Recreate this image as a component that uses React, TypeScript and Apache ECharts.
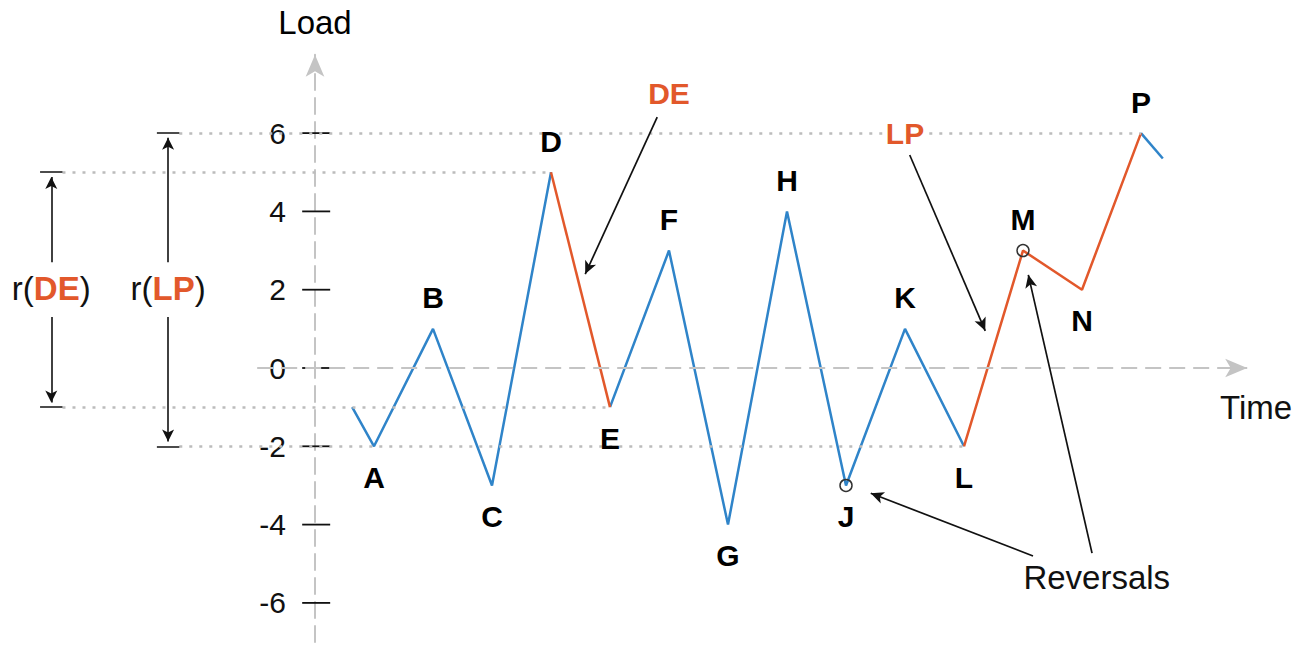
import React, { useEffect, useRef } from 'react';
import * as echarts from 'echarts';

const FONT = '"Liberation Sans", Arial, Helvetica, sans-serif';
const BLUE = '#2f84c9';
const ORANGE = '#e2582b';
const INK = '#000000';

// Reversal points of the load history
const letters = ['A', 'B', 'C', 'D', 'E', 'F', 'G', 'H', 'J', 'K', 'L', 'M', 'N', 'P'];
const times = [1, 2, 3, 4, 5, 6, 7, 8, 9, 10, 11, 12, 13, 14];
const loads = [-2, 1, -3, 5, -1, 3, -4, 4, -3, 1, -2, 3, 2, 6];
// partial segments before A and after P
const leadIn = [0.63, -1];
const leadOut = [14.37, 5.35];
// y axis tick labels
const yTickValues = [-6, -4, -2, 0, 2, 4, 6];
// circled reversals
const circled = ['J', 'M'];
// highlighted half cycles (orange) and the rest of the history (blue)
const orangeStretches = [['D', 'E'], ['L', 'M', 'N', 'P']];
const blueStretches = [['A', 'B', 'C', 'D'], ['E', 'F', 'G', 'H', 'J', 'K', 'L'], ['P']];
// ranges shown on the left
const rangePairs = [['D', 'E'], ['L', 'P']];

const pt = (l: string) => {
  const i = letters.indexOf(l);
  return [times[i], loads[i]];
};

const X_MIN = -5;
const X_MAX = 16.5;
const GRID_LEFT = 20;
const GRID_RIGHT = 12.5;
const WIDTH = 1301;

export default function App() {
  const ref = useRef<HTMLDivElement>(null);
  useEffect(() => {
    document.body.style.margin = '0';
    if (!ref.current) return;
    const chart = echarts.init(ref.current, null, { renderer: 'svg' });

    const blueData = blueStretches.map((s, k) => {
      const pts = s.map(pt);
      if (k === 0) pts.unshift(leadIn);
      if (k === blueStretches.length - 1) pts.push(leadOut);
      return pts;
    });
    const gridWidth = WIDTH - GRID_LEFT - GRID_RIGHT;
    const yAxisOffset = -(gridWidth * (0 - X_MIN)) / (X_MAX - X_MIN);

    const rangeX = [-4.47, -2.49];
    const capHalf = 0.19;
    const dotted: any[] = [];
    const caps: any[] = [];
    const rangeArrows: any[] = [];
    const rangeLabels: any[] = [];
    rangePairs.forEach((pair, k) => {
      const x = rangeX[k];
      const vals = pair.map((l) => pt(l)[1]);
      const hi = Math.max(...vals);
      const lo = Math.min(...vals);
      pair.forEach((l) => {
        const p = pt(l);
        dotted.push([{ coord: [x + capHalf, p[1]] }, { coord: p }]);
        caps.push([{ coord: [x - capHalf, p[1]] }, { coord: [x + capHalf, p[1]] }]);
      });
      rangeArrows.push([{ coord: [x, 2.7] }, { coord: [x, hi - 0.12] }]);
      rangeArrows.push([{ coord: [x, 1.3] }, { coord: [x, lo + 0.12] }]);
      rangeLabels.push({
        value: [x, 2.02],
        label: { formatter: `{k|r(}{o|${pair.join('')}}{k|)}` },
      });
    });

    const annotationArrows = [
      [[5.8, 6.41], [4.58, 2.4]],
      [[10.08, 5.44], [11.36, 0.95]],
      [[12.17, -4.8], [9.42, -3.2]],
      [[13.17, -4.73], [12.09, 2.38]],
    ].map(([a, b]) => [{ coord: a }, { coord: b }]);

    const noBorder = { textBorderWidth: 0, textShadowBlur: 0 };
    const solid = { opacity: 1 };

    const option: any = {
      animation: false,
      grid: {
        left: GRID_LEFT,
        right: GRID_RIGHT,
        top: 54.8,
        bottom: 2.95,
        containLabel: false,
        outerBoundsMode: 'none',
      },
      xAxis: { type: 'value', min: X_MIN, max: X_MAX, show: false },
      yAxis: {
        type: 'value',
        min: -7,
        max: 8,
        position: 'left',
        offset: yAxisOffset,
        name: 'Load',
        nameLocation: 'end',
        nameGap: 16,
        nameTextStyle: { fontSize: 33, color: INK, fontFamily: FONT },
        axisLine: {
          show: true,
          onZero: false,
          symbol: ['none', 'arrow'],
          symbolSize: [14, 22],
          lineStyle: { color: '#c4c4c4', width: 2, type: [16, 8] },
        },
        axisTick: { show: false },
        splitLine: { show: false },
        axisLabel: {
          customValues: yTickValues,
          fontSize: 30,
          color: '#111',
          margin: 29,
          fontFamily: FONT,
        },
      },
      series: [
        {
          name: 'ticks',
          type: 'scatter',
          z: 1,
          symbol: 'rect',
          symbolSize: [28, 1.8],
          itemStyle: { color: '#111', opacity: 1 },
          data: yTickValues.map((v) => [0.02, v]),
          silent: true,
        },
        {
          name: 'guides',
          type: 'scatter',
          z: 2,
          data: [],
          markLine: {
            silent: true,
            symbol: ['none', 'none'],
            label: { show: false },
            lineStyle: { color: '#bcbcbc', width: 2.5, type: [3, 7], opacity: 1 },
            data: dotted,
          },
        },
        {
          name: 'timeAxis',
          type: 'scatter',
          z: 2,
          data: [],
          markLine: {
            silent: true,
            symbol: ['none', 'arrow'],
            symbolSize: [14, 22],
            label: { show: false },
            lineStyle: { color: '#c4c4c4', width: 2, type: [16, 8], opacity: 1 },
            data: [[{ coord: [-0.98, 0] }, { coord: [15.8, 0] }]],
          },
        },
        {
          name: 'caps',
          type: 'scatter',
          z: 3,
          data: [],
          markLine: {
            silent: true,
            symbol: ['none', 'none'],
            label: { show: false },
            lineStyle: { color: '#111', width: 1.5, type: 'solid', opacity: 1 },
            data: caps,
          },
        },
        {
          name: 'rangeArrows',
          type: 'scatter',
          z: 3,
          data: [],
          markLine: {
            silent: true,
            symbol: ['none', 'arrow'],
            symbolSize: [9, 12],
            label: { show: false },
            itemStyle: { color: '#111', opacity: 1 },
            lineStyle: { color: '#111', width: 1.6, type: 'solid', opacity: 1 },
            data: rangeArrows,
          },
        },
        ...blueData.map((d, k) => ({
          name: 'Load history ' + (k + 1),
          type: 'line',
          z: 4,
          symbol: 'none',
          lineStyle: { color: BLUE, width: 2.5 },
          data: d,
        })),
        ...orangeStretches.map((s) => ({
          name: 'Half cycle ' + s.join(''),
          type: 'line',
          z: 4,
          symbol: 'none',
          lineStyle: { color: ORANGE, width: 2.5 },
          data: s.map(pt),
        })),
        {
          name: 'circles',
          type: 'scatter',
          z: 6,
          symbol: 'circle',
          symbolSize: 12,
          itemStyle: { color: 'rgba(0,0,0,0)', borderColor: '#333', borderWidth: 1.5, opacity: 1 },
          data: circled.map(pt),
        },
        {
          name: 'letters',
          type: 'scatter',
          z: 7,
          symbolSize: 0,
          itemStyle: solid,
          data: letters.map((l, i) => {
            const nb = i + 1 < loads.length ? loads[i + 1] : loads[i - 1];
            const above = loads[i] > nb;
            return {
              value: [times[i], loads[i]],
              label: {
                show: true,
                formatter: l,
                position: above ? 'top' : 'bottom',
                distance: 16,
                fontSize: 30,
                fontWeight: 'bold',
                color: INK,
                fontFamily: FONT,
                ...noBorder,
              },
            };
          }),
        },
        {
          name: 'rangeLabels',
          type: 'scatter',
          z: 7,
          symbolSize: 0,
          itemStyle: solid,
          label: {
            show: true,
            position: 'inside',
            fontFamily: FONT,
            ...noBorder,
            rich: {
              k: { fontSize: 33, color: '#111', fontFamily: FONT, ...noBorder },
              o: { fontSize: 33, color: ORANGE, fontWeight: 'bold', fontFamily: FONT, ...noBorder },
            },
          },
          data: rangeLabels,
        },
        {
          name: 'texts',
          type: 'scatter',
          z: 7,
          symbolSize: 0,
          itemStyle: solid,
          label: { show: true, position: 'inside', fontFamily: FONT, color: '#111', fontSize: 33, ...noBorder },
          data: [
            { value: [6.0, 7.02], label: { formatter: 'DE', color: ORANGE, fontWeight: 'bold', fontSize: 30 } },
            {
              value: [10.0, 6.0],
              label: { formatter: 'LP', color: ORANGE, fontWeight: 'bold', fontSize: 30, backgroundColor: '#fff', padding: [0, 3] },
            },
            { value: [13.25, -5.36], label: { formatter: 'Reversals' } },
            { value: [15.95, -1.0], label: { formatter: 'Time' } },
          ],
        },
        {
          name: 'annotationArrows',
          type: 'scatter',
          z: 6,
          data: [],
          markLine: {
            silent: true,
            symbol: ['none', 'arrow'],
            symbolSize: [9, 13],
            label: { show: false },
            itemStyle: { color: '#111', opacity: 1 },
            lineStyle: { color: '#111', width: 1.7, type: 'solid', opacity: 1 },
            data: annotationArrows,
          },
        },
      ],
    };
    chart.setOption(option);
    return () => chart.dispose();
  }, []);
  return <div ref={ref} style={{ width: 1301, height: 645 }} />;
}
